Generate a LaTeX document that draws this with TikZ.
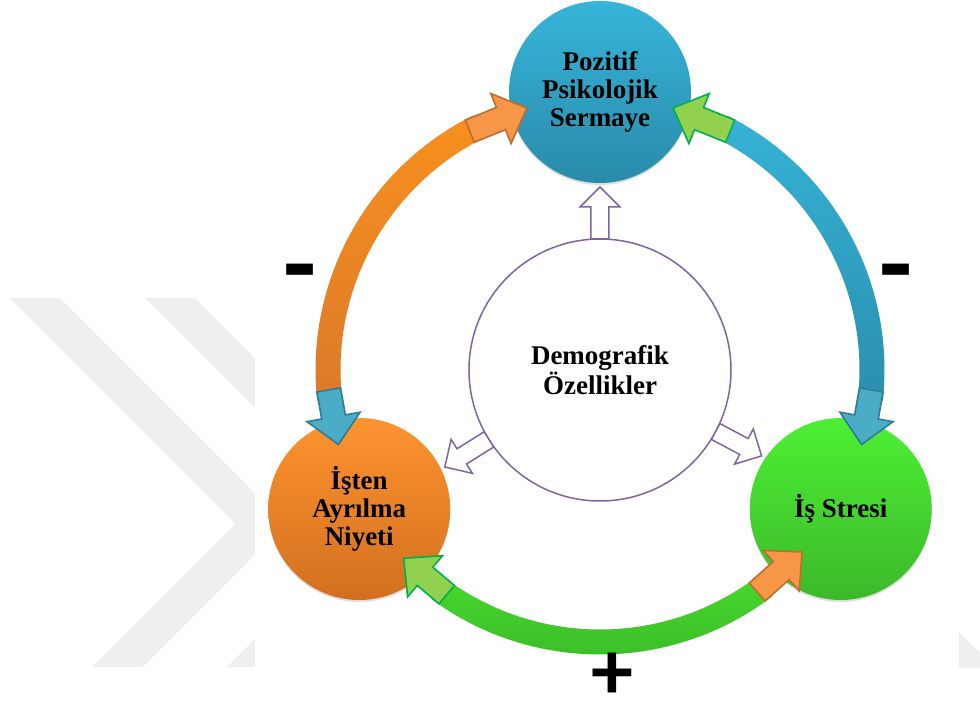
\documentclass[tikz,border=0pt]{standalone}
\usepackage{fontspec}
\setmainfont{Liberation Serif}
\newfontfamily\signfont{Carlito}
\usetikzlibrary{calc,shadows}

\definecolor{wmgray}{HTML}{EFEFEF}
\definecolor{demopurple}{HTML}{8064A2}
% circle gradients
\definecolor{bluetop}{HTML}{36B4DA}
\definecolor{bluebot}{HTML}{2A8BA9}
\definecolor{orangetop}{HTML}{FE9430}
\definecolor{orangebot}{HTML}{D26F1F}
\definecolor{greentop}{HTML}{4CF034}
\definecolor{greenbot}{HTML}{3CB82A}
% ring bands
\definecolor{obandtop}{HTML}{F7901E}
\definecolor{obandbot}{HTML}{DC7A2A}
\definecolor{bbandtop}{HTML}{35B2D6}
\definecolor{bbandbot}{HTML}{2B8FAE}
\definecolor{gbandtop}{HTML}{46D82B}
\definecolor{gbandbot}{HTML}{3BB82A}
% arrow heads
\definecolor{oheadfill}{HTML}{F79646}
\definecolor{oheadline}{HTML}{BC6E2E}
\definecolor{bheadfill}{HTML}{4BACC6}
\definecolor{bheadline}{HTML}{2E7C95}
\definecolor{gheadfill}{HTML}{92D050}
\definecolor{gheadline}{HTML}{00B050}

\tikzset{
  outercirc/.style={circle, minimum size=182pt, inner sep=0pt, align=center,
    font=\bfseries\fontsize{27}{28}\selectfont,
    drop shadow={opacity=0.25, shadow xshift=0pt, shadow yshift=-2pt}},
  democirc/.style={circle, minimum size=262pt, inner sep=0pt, align=center,
    draw=demopurple, line width=1.5pt, fill=white,
    font=\bfseries\fontsize{27}{28}\selectfont},
  demoarrow/.style={draw=demopurple, line width=1.5pt, fill=white, line join=miter},
  headstyle/.style={line width=1.6pt, line join=miter},
  plussign/.style={font=\signfont\bfseries\fontsize{84}{84}\selectfont, inner sep=0pt},
  minussign/.style={font=\signfont\bfseries\fontsize{108}{108}\selectfont, inner sep=0pt}
}

% annular band of the ring between two angles
\newcommand\ringband[4]{%
  \shade[top color=#3, bottom color=#4]
    ([shift={(#1:259.5)}]demo.center) arc[start angle=#1, end angle=#2, radius=259.5]
    -- ([shift={(#2:284.5)}]demo.center) arc[start angle=#2, end angle=#1, radius=284.5]
    -- cycle;}

% block arrow head on the ring: start angle, tip angle, fill, outline
\newcommand\ringhead[4]{%
  \coordinate (hs) at ([shift={(#1:272)}]demo.center);
  \coordinate (ht) at ([shift={(#2:272)}]demo.center);
  \coordinate (hb) at ($(ht)!28pt!(hs)$);
  \filldraw[headstyle, fill=#3, draw=#4]
    ($(hs)!12pt!90:(ht)$) -- ($(hb)!12pt!90:(ht)$) -- ($(hb)!27pt!90:(ht)$)
    -- (ht) -- ($(hb)!27pt!-90:(ht)$) -- ($(hb)!12pt!-90:(ht)$)
    -- ($(hs)!12pt!-90:(ht)$) -- cycle;}

% hollow arrow leaving the central circle
\newcommand\demoout[1]{%
  \coordinate (ds) at ([shift={(#1:131)}]demo.center);
  \coordinate (dt) at ([shift={(#1:183)}]demo.center);
  \coordinate (db) at ($(dt)!20pt!(ds)$);
  \draw[demoarrow]
    ($(ds)!9pt!90:(dt)$) -- ($(db)!9pt!90:(dt)$) -- ($(db)!20pt!90:(dt)$)
    -- (dt) -- ($(db)!20pt!-90:(dt)$) -- ($(db)!9pt!-90:(dt)$)
    -- ($(ds)!9pt!-90:(dt)$) -- cycle;}

\begin{document}
\begin{tikzpicture}[x=1pt, y=1pt]
\useasboundingbox (-600,-337) rectangle (380,370);

% faint chevron marks behind the white panel
\begin{scope}[shift={(-600,370)}, yscale=-1]
  \fill[wmgray] (10,298) -- (60,298) -- (286,524) -- (143,667) -- (92,667) -- (235.5,523.5) -- cycle;
  \fill[wmgray] (145,298) -- (195,298) -- (421,524) -- (278,667) -- (227,667) -- (370.5,523.5) -- cycle;
  \fill[wmgray] (959,632) -- (980,653) -- (980,668) -- (959,668) -- cycle;
  \fill[white] (255,0) rectangle (959,707);
\end{scope}

% central factor
\node[democirc] (demo) at (0,0) {Demografik\\Özellikler};

% the three outer factors
\node[outercirc, top color=bluetop, bottom color=bluebot] (psy) at (90:278) {Pozitif\\Psikolojik\\Sermaye};
\node[outercirc, top color=orangetop, bottom color=orangebot] (quit) at (210:278) {İşten\\Ayrılma\\Niyeti};
\node[outercirc, top color=greentop, bottom color=greenbot] (stress) at (330:278) {İş Stresi};

% ring bands
\ringband{116.6}{186.2}{obandtop}{obandbot}
\ringband{-6.2}{63.4}{bbandtop}{bbandbot}
\ringband{233.7}{307.3}{gbandtop}{gbandbot}

% heads at the band ends
\ringhead{118.6}{105.6}{oheadfill}{oheadline}
\ringhead{184.2}{195.9}{bheadfill}{bheadline}
\ringhead{61.4}{74.4}{gheadfill}{gheadline}
\ringhead{-4.2}{-15.9}{bheadfill}{bheadline}
\ringhead{235.7}{223.8}{gheadfill}{gheadline}
\ringhead{-54.7}{-42}{oheadfill}{oheadline}

% hollow arrows from the centre
\demoout{90}
\demoout{212}
\demoout{332}

% relation signs
\node[minussign] (negleft) at (-300,88) {-};
\node[minussign] (negright) at (296,88) {-};
\node[plussign] (pos) at (12,-306) {+};
\end{tikzpicture}
\end{document}
